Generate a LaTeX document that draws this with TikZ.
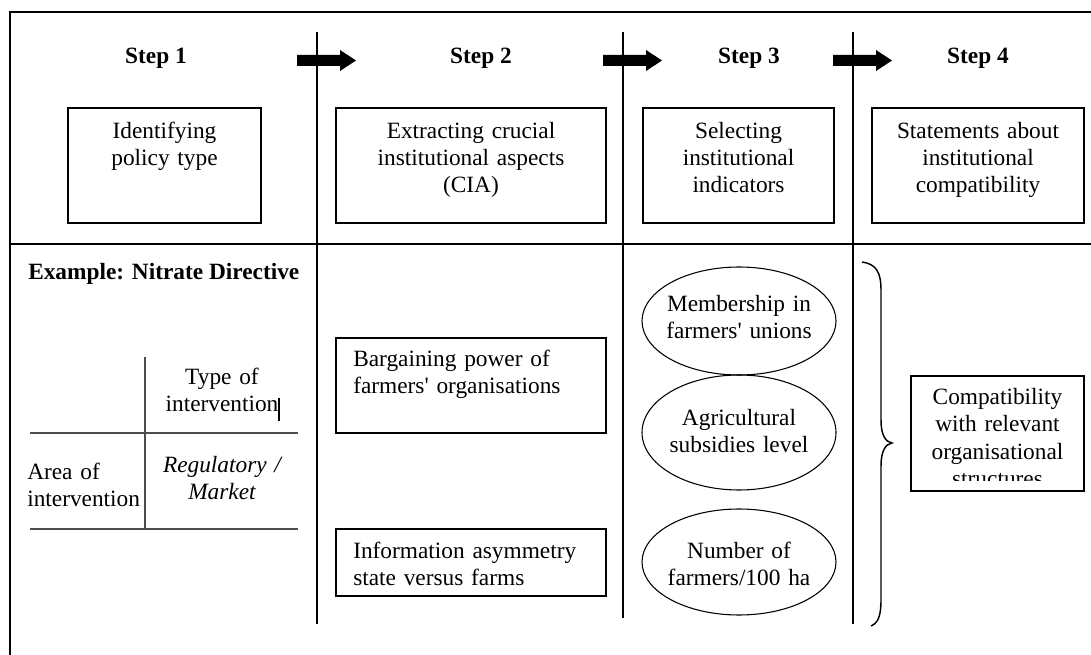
\documentclass[tikz,border=0pt]{standalone}
\usepackage{fontspec}
\setmainfont{Liberation Serif}
\usetikzlibrary{shapes.geometric}
\newcommand\pxu{0.75pt}
\begin{document}
\begin{tikzpicture}[x=0.75pt,y=-0.75pt,
  frameline/.style={line width=1.3pt},
  divline/.style={line width=0.95pt},
  tabline/.style={line width=1pt, draw=black!70},
  box/.style={draw, line width=1.4pt, rectangle, inner sep=0pt},
  oval/.style={draw, line width=0.8pt, ellipse, inner sep=0pt,
    minimum width=194*\pxu},
  body/.style={font=\fontsize{17.5}{20.25}\selectfont, inner sep=0pt,
    text width=260*\pxu, align=center},
  lbody/.style={body, align=left, anchor=base west},
  steplabel/.style={font=\fontsize{17.5}{20.25}\selectfont\bfseries,
    inner sep=0pt, anchor=base},
  blockarrow/.style={fill=black}]
\useasboundingbox (0,0) rectangle (1091,655);

% outer frame and the horizontal divider
\draw[frameline] (10,655) -- (10,12) -- (1091,12);
\draw[frameline] (9,244) -- (1091,244);

% column dividers
\draw[divline] (317,32) -- (317,624);
\draw[divline] (623,32) -- (623,618);
\draw[divline] (853,32) -- (853,624);

% step headings
\node[steplabel] (s1) at (156,64) {Step 1};
\node[steplabel] (s2) at (481,64) {Step 2};
\node[steplabel] (s3) at (749,64) {Step 3};
\node[steplabel] (s4) at (978,64) {Step 4};

% block arrows between the steps
\foreach \x in {297,603,833}{
  \fill[blockarrow] (\x,55) -- (\x+43,55) -- (\x+43,50) -- (\x+59,60.5)
    -- (\x+43,71) -- (\x+43,66) -- (\x,66) -- cycle;
}

% top row of boxes
\node[box, minimum width=193*\pxu, minimum height=115*\pxu] (b1) at (164.5,165.5) {};
\node[body, anchor=base] (b1t) at (164.5,139) {Identifying\\policy type};
\node[box, minimum width=270*\pxu, minimum height=115*\pxu] (b2) at (471,165.5) {};
\node[body, anchor=base] (b2t) at (471,139) {Extracting crucial\\institutional aspects\\(CIA)};
\node[box, minimum width=191*\pxu, minimum height=115*\pxu] (b3) at (738.5,165.5) {};
\node[body, anchor=base] (b3t) at (738.5,139) {Selecting\\institutional\\indicators};
\node[box, minimum width=212*\pxu, minimum height=115*\pxu] (b4) at (978,165.5) {};
\node[body, anchor=base] (b4t) at (978,139) {Statements about\\institutional\\compatibility};

% example, step 1: classification table
\node[steplabel, anchor=base west] (ex) at (28,280) {Example: Nitrate Directive};
\draw[tabline] (145,357) -- (145,529);
\draw[tabline] (30,433) -- (298,433);
\draw[tabline] (30,529) -- (298,529);
\node[body, anchor=base] (ty) at (222,385) {Type of\\intervention};
\draw[line width=0.8pt] (279,398) -- (279,421);
\node[lbody] (ar) at (27,479) {Area of\\intervention};
\node[body, anchor=base] (rm) at (222,472) {\itshape Regulatory /\\Market};

% example, step 2: crucial aspects
\node[box, minimum width=270*\pxu, minimum height=95*\pxu] (c1) at (471,385.5) {};
\node[lbody] (c1t) at (353,367) {Bargaining power of\\farmers\textquotesingle{} organisations};
\node[box, minimum width=270*\pxu, minimum height=67*\pxu] (c2) at (471,562.5) {};
\node[lbody] (c2t) at (353,558) {Information asymmetry\\state versus farms};

% example, step 3: indicators
\node[oval, minimum height=108*\pxu] (e1) at (739,321) {};
\node[body, anchor=base] (e1t) at (739,312) {Membership in\\farmers\textquotesingle{} unions};
\node[oval, minimum height=115*\pxu] (e2) at (739,432.5) {};
\node[body, anchor=base] (e2t) at (739,426) {Agricultural\\subsidies level};
\node[oval, minimum height=106*\pxu] (e3) at (739,562) {};
\node[body, anchor=base] (e3t) at (739,558) {Number of\\farmers/100 ha};

% example, step 4: brace and statement
\draw[line width=1.1pt] (862,262) .. controls (876,264) and (881,272) .. (881,290)
  -- (881,420) .. controls (881,436) and (886,442) .. (892,443)
  .. controls (886,444) and (881,450) .. (881,466)
  -- (881,600) .. controls (881,616) and (878,623) .. (871,626);
\node[box, minimum width=173*\pxu, minimum height=115*\pxu] (d1) at (997.5,433.5) {};
\begin{scope}
  \clip (912,377) rectangle (1083,480);
  \node[body, anchor=base] (d1t) at (997.5,405) {Compatibility\\with relevant\\organisational\\structures};
\end{scope}
\end{tikzpicture}
\end{document}
